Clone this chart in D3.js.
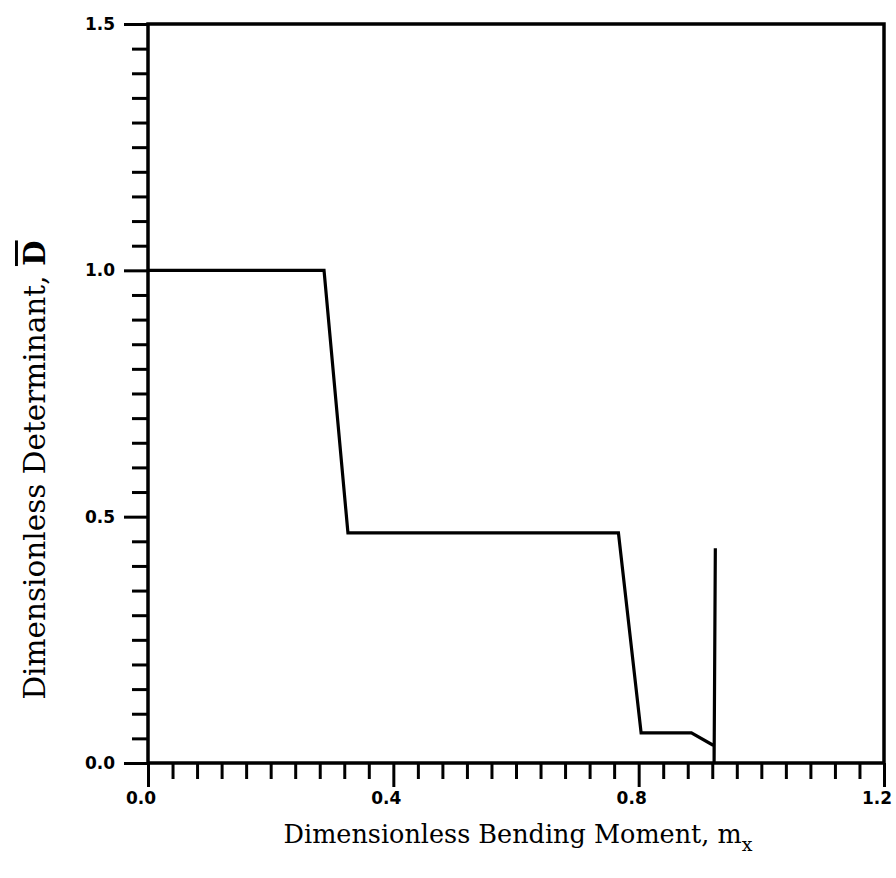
<!DOCTYPE html>
<html><head><meta charset="utf-8">
<script src="https://cdn.jsdelivr.net/npm/d3@7"></script>
<style>body{margin:0;background:#fff;} svg{display:block;}</style>
</head><body>
<svg id="chart" width="896" height="878"></svg>
<script>
// Data
const curveX = [0.0, 0.287, 0.326, 0.767, 0.804, 0.886, 0.923, 0.923, 0.925];
const curveY = [1.0, 1.0, 0.467, 0.467, 0.061, 0.061, 0.035, 0.0, 0.436];
const xMajorTicks = [0.0, 0.4, 0.8, 1.2];
const xTickLabels = ["0.0", "0.4", "0.8", "1.2"];
const yMajorTicks = [0.0, 0.5, 1.0, 1.5];
const yTickLabels = ["0.0", "0.5", "1.0", "1.5"];
const xMinorStep = 0.04;
const yMinorStep = 0.05;

(function(){
const svg = d3.select("#chart");
const mL = 148, mR = 884, mT = 24, mB = 763;
const x = d3.scaleLinear().domain([0, 1.2]).range([mL, mR]);
const y = d3.scaleLinear().domain([0, 1.5]).range([mB, mT]);

const xMinor = d3.range(0, 1.2 + 1e-9, xMinorStep);
const yMinor = d3.range(0, 1.5 + 1e-9, yMinorStep);

const isMajor = (v, arr) => arr.some(m => Math.abs(m - v) < 1e-6);

// frame
svg.append("rect").attr("x", mL).attr("y", mT).attr("width", mR - mL).attr("height", mB - mT)
  .attr("fill", "none").attr("stroke", "#000").attr("stroke-width", 3.5);

// x ticks
const xAxis = d3.axisBottom(x).tickValues(xMinor).tickFormat("").tickSize(0);
const gx = svg.append("g").attr("transform", `translate(0,${mB})`).call(xAxis);
gx.select(".domain").remove();
gx.selectAll(".tick line").attr("y2", d => isMajor(d, xMajorTicks) ? 24 : 16)
  .attr("stroke", "#000").attr("stroke-width", 3);
gx.selectAll(".tick text").remove();
svg.append("g").selectAll("text").data(xMajorTicks).join("text")
  .attr("x", d => x(d) - 7).attr("y", 804)
  .attr("text-anchor", "middle")
  .attr("font-family", "DejaVu Sans, sans-serif").attr("font-weight", "bold").attr("font-size", 17)
  .text((d, i) => xTickLabels[i]);

// y ticks
const yAxis = d3.axisLeft(y).tickValues(yMinor).tickFormat("").tickSize(0);
const gy = svg.append("g").attr("transform", `translate(${mL},0)`).call(yAxis);
gy.select(".domain").remove();
gy.selectAll(".tick line").attr("x2", d => isMajor(d, yMajorTicks) ? -24 : -16)
  .attr("stroke", "#000").attr("stroke-width", 3);
gy.selectAll(".tick text").remove();
svg.append("g").selectAll("text").data(yMajorTicks).join("text")
  .attr("x", 115).attr("y", d => y(d) + 6)
  .attr("text-anchor", "end")
  .attr("font-family", "DejaVu Sans, sans-serif").attr("font-weight", "bold").attr("font-size", 17)
  .text((d, i) => yTickLabels[i]);

// curve
const pts = curveX.map((v, i) => [v, curveY[i]]);
svg.append("path").datum(pts)
  .attr("d", d3.line().x(d => x(d[0])).y(d => y(d[1])))
  .attr("fill", "none").attr("stroke", "#000").attr("stroke-width", 3.2).attr("stroke-linejoin", "miter");

// axis titles
const xt = svg.append("text").attr("x", 518).attr("y", 843).attr("text-anchor", "middle")
  .attr("font-family", "DejaVu Serif, serif").attr("font-size", 25.5);
xt.append("tspan").text("Dimensionless Bending Moment, m");
xt.append("tspan").attr("dy", 8).attr("font-size", 19).text("x");

const yt = svg.append("text").attr("transform", "translate(45,470) rotate(-90)").attr("text-anchor", "middle")
  .attr("font-family", "DejaVu Serif, serif").attr("font-size", 29.5);
yt.append("tspan").text("Dimensionless Determinant, ");
yt.append("tspan").attr("font-weight", "bold").attr("text-decoration", "overline").text("D");
})();
</script>
</body></html>
